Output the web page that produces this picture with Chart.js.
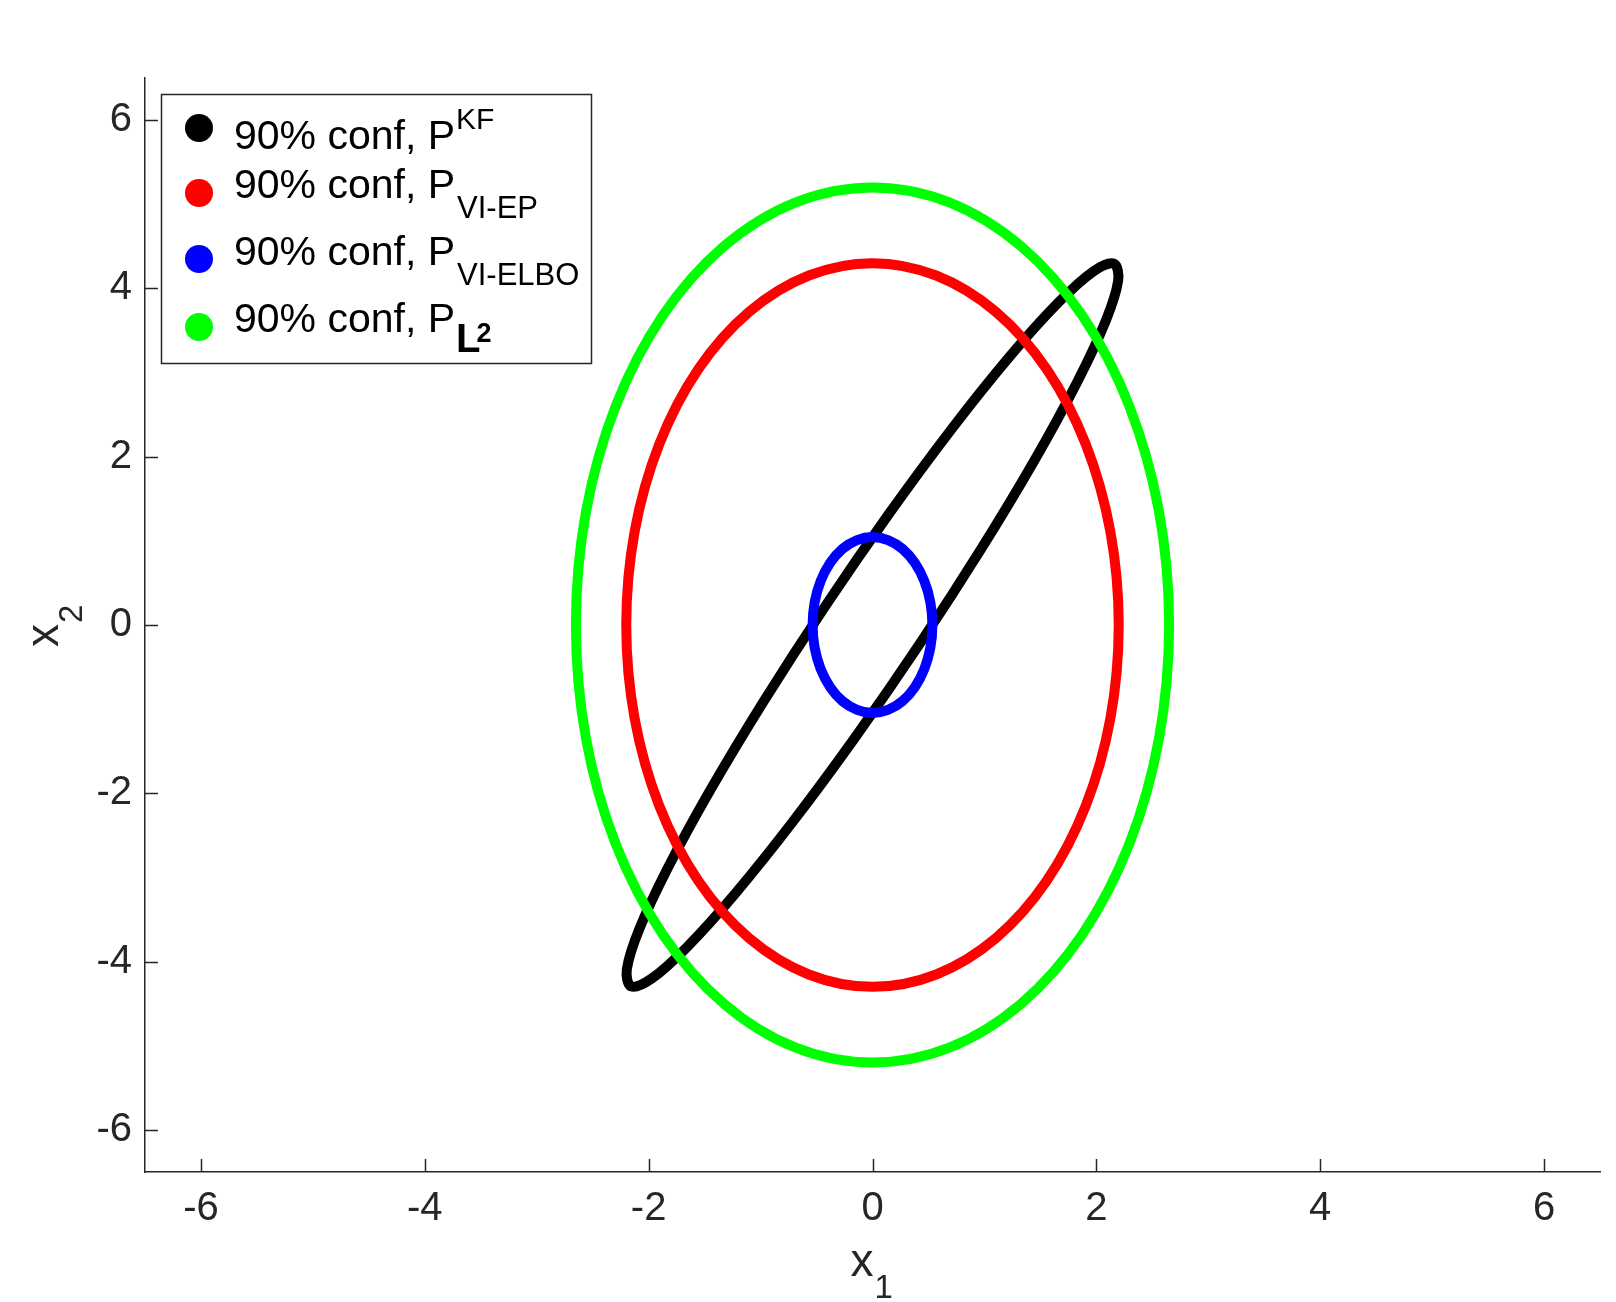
<!DOCTYPE html>
<html>
<head>
<meta charset="utf-8">
<script src="https://cdn.jsdelivr.net/npm/chart.js@4.4.1/dist/chart.umd.min.js"></script>
<style>
html,body{margin:0;padding:0;background:#fff;overflow:hidden}
#wrap{position:relative;width:1616px;height:1302px}
</style>
</head>
<body>
<div id="wrap"><canvas id="c" width="1616" height="1302"></canvas></div>
<script>
// ---- data (90% confidence ellipses, points every 15 degrees) ----
const seriesMain = ['90% conf, P', '90% conf, P', '90% conf, P', '90% conf, P'];
const seriesSup = ['KF', '', '', ''];
const seriesSub = ['', 'VI-EP', 'VI-ELBO', 'L'];
const seriesColors = ['#000000', '#ff0000', '#0000ff', '#00ff00'];

const blackX = [2.158, 1.974, 1.656, 1.224, 0.709, 0.146, -0.427, -0.971, -1.449, -1.828, -2.083, -2.195,
                -2.158, -1.974, -1.656, -1.224, -0.709, -0.146, 0.427, 0.971, 1.449, 1.828, 2.083, 2.195];
const blackY = [4.294, 4.203, 3.826, 3.188, 2.333, 1.319, 0.215, -0.904, -1.961, -2.885, -3.611, -4.092,
                -4.294, -4.203, -3.826, -3.188, -2.333, -1.319, -0.215, 0.904, 1.961, 2.885, 3.611, 4.092];

const redX = [2.2, 2.125, 1.905, 1.556, 1.1, 0.569, 0, -0.569, -1.1, -1.556, -1.905, -2.125,
              -2.2, -2.125, -1.905, -1.556, -1.1, -0.569, 0, 0.569, 1.1, 1.556, 1.905, 2.125];
const redY = [0, 1.113, 2.15, 3.041, 3.724, 4.153, 4.3, 4.153, 3.724, 3.041, 2.15, 1.113,
              0, -1.113, -2.15, -3.041, -3.724, -4.153, -4.3, -4.153, -3.724, -3.041, -2.15, -1.113];

const blueX = [0.535, 0.517, 0.463, 0.378, 0.268, 0.138, 0, -0.138, -0.268, -0.378, -0.463, -0.517,
               -0.535, -0.517, -0.463, -0.378, -0.268, -0.138, 0, 0.138, 0.268, 0.378, 0.463, 0.517];
const blueY = [0, 0.270, 0.523, 0.739, 0.905, 1.009, 1.045, 1.009, 0.905, 0.739, 0.523, 0.270,
               0, -0.270, -0.523, -0.739, -0.905, -1.009, -1.045, -1.009, -0.905, -0.739, -0.523, -0.270];

const greenX = [2.65, 2.56, 2.295, 1.874, 1.325, 0.686, 0, -0.686, -1.325, -1.874, -2.295, -2.56,
                -2.65, -2.56, -2.295, -1.874, -1.325, -0.686, 0, 0.686, 1.325, 1.874, 2.295, 2.56];
const greenY = [0, 1.346, 2.6, 3.677, 4.503, 5.023, 5.2, 5.023, 4.503, 3.677, 2.6, 1.346,
                0, -1.346, -2.6, -3.677, -4.503, -5.023, -5.2, -5.023, -4.503, -3.677, -2.6, -1.346];

const xTicks = [-6, -4, -2, 0, 2, 4, 6];
const yTicks = [-6, -4, -2, 0, 2, 4, 6];
const xTickLabels = ['-6', '-4', '-2', '0', '2', '4', '6'];
const yTickLabels = ['-6', '-4', '-2', '0', '2', '4', '6'];
const xRange = [-6.5, 6.5];
const yRange = [-6.5, 6.5];
// ---------------------------------------------------------------------------------------

const FONT = '"Liberation Sans", Arial, Helvetica, sans-serif';
const AXIS = '#262626';

// closed loop: reuse the listed points, wrapping one point on each side so the spline closes
// smoothly; the two wrap segments themselves are hidden (see segment option below)
function loop(xs, ys) {
  const n = xs.length, pts = [];
  for (let i = -1; i <= n + 1; i++) {
    const k = (i + n) % n;
    pts.push({x: xs[k], y: ys[k]});
  }
  return pts;
}

const overlay = {
  id: 'overlay',
  afterDraw(chart) {
    const ctx = chart.ctx;
    const xs = chart.scales.x, ys = chart.scales.y;
    const ca = chart.chartArea;
    ctx.save();
    // inward tick marks
    ctx.strokeStyle = AXIS;
    ctx.lineWidth = 1.5;
    ctx.beginPath();
    xTicks.forEach(v => {
      const px = Math.round(xs.getPixelForValue(v)) + 0.5;
      ctx.moveTo(px, ca.bottom);
      ctx.lineTo(px, ca.bottom - 13);
    });
    yTicks.forEach(v => {
      const py = Math.round(ys.getPixelForValue(v)) + 0.5;
      ctx.moveTo(ca.left, py);
      ctx.lineTo(ca.left + 13, py);
    });
    ctx.stroke();

    // axis titles
    ctx.fillStyle = AXIS;
    ctx.textBaseline = 'alphabetic';
    ctx.textAlign = 'left';
    const cx = (ca.left + ca.right) / 2;
    ctx.font = '46px ' + FONT;
    const wx = ctx.measureText('x').width;
    ctx.fillText('x', cx - 22, ca.bottom + 104);
    ctx.font = '33px ' + FONT;
    ctx.fillText('1', cx - 22 + wx + 1, ca.bottom + 126);

    const cy = (ca.top + ca.bottom) / 2;
    ctx.save();
    ctx.translate(ca.left - 87, cy + 22);
    ctx.rotate(-Math.PI / 2);
    ctx.font = '46px ' + FONT;
    ctx.fillText('x', 0, 0);
    ctx.font = '33px ' + FONT;
    ctx.fillText('2', wx + 1, 24);
    ctx.restore();

    // legend
    const lx = ca.left + 16, ly = ca.top + 16, lw = 430, lh = 269;
    ctx.fillStyle = '#ffffff';
    ctx.fillRect(lx, ly, lw, lh);
    ctx.strokeStyle = AXIS;
    ctx.lineWidth = 1.5;
    ctx.strokeRect(lx + 0.5, ly + 0.5, lw, lh);
    const markerY = [34, 99, 165, 233];
    const baseY = [55, 104, 171, 238];
    seriesMain.forEach((txt, i) => {
      ctx.fillStyle = seriesColors[i];
      ctx.beginPath();
      ctx.arc(lx + 38, ly + markerY[i], 14, 0, Math.PI * 2);
      ctx.fill();
      ctx.fillStyle = '#000000';
      ctx.font = '41px ' + FONT;
      const tx = lx + 73;
      ctx.fillText(txt, tx, ly + baseY[i]);
      const w = ctx.measureText(txt).width;
      if (seriesSup[i]) {
        ctx.font = '30px ' + FONT;
        ctx.fillText(seriesSup[i], tx + w + 1, ly + baseY[i] - 20);
      }
      if (seriesSub[i] === 'L') {
        ctx.font = 'bold 40px ' + FONT;
        ctx.fillText('L', tx + w + 1, ly + baseY[i] + 20);
        const wl = ctx.measureText('L').width;
        ctx.font = 'bold 27px ' + FONT;
        ctx.fillText('2', tx + w + 1 + wl - 4, ly + baseY[i] + 10);
      } else if (seriesSub[i]) {
        ctx.font = '31px ' + FONT;
        ctx.fillText(seriesSub[i], tx + w + 2, ly + baseY[i] + 20);
      }
    });
    ctx.restore();
  }
};

const ds = (label, xs, ys, color, order) => {
  const last = xs.length + 1; // index of the final wrap segment's start point
  return {
    label, data: loop(xs, ys), borderColor: color, backgroundColor: color,
    showLine: true, fill: false, borderWidth: 10, tension: 0.34, pointRadius: 0,
    pointHoverRadius: 0, order,
    segment: {
      borderColor: c => (c.p0DataIndex === 0 || c.p0DataIndex === last) ? 'rgba(0,0,0,0)' : color
    }
  };
};

new Chart(document.getElementById('c'), {
  type: 'scatter',
  data: {
    datasets: [
      ds('P KF', blackX, blackY, seriesColors[0], 4),
      ds('P VI-EP', redX, redY, seriesColors[1], 3),
      ds('P VI-ELBO', blueX, blueY, seriesColors[2], 2),
      ds('P L2', greenX, greenY, seriesColors[3], 1)
    ]
  },
  options: {
    responsive: false,
    animation: false,
    devicePixelRatio: 1,
    events: [],
    layout: {padding: {top: 78, right: 16, left: 0, bottom: 0}},
    plugins: {legend: {display: false}, tooltip: {enabled: false}},
    elements: {line: {capBezierPoints: false, borderCapStyle: 'round', borderJoinStyle: 'round'}},
    scales: {
      x: {
        type: 'linear', min: xRange[0], max: xRange[1],
        afterFit: s => { s.height = 130; },
        afterBuildTicks: s => { s.ticks = xTicks.map(v => ({value: v})); },
        grid: {display: false, drawTicks: false},
        border: {display: true, color: AXIS, width: 1.5},
        ticks: {
          padding: 13, color: AXIS, font: {family: FONT, size: 40}, maxRotation: 0,
          callback: v => xTickLabels[xTicks.indexOf(v)]
        }
      },
      y: {
        type: 'linear', min: yRange[0], max: yRange[1],
        afterFit: s => { s.width = 145; },
        afterBuildTicks: s => { s.ticks = yTicks.map(v => ({value: v})); },
        grid: {display: false, drawTicks: false},
        border: {display: true, color: AXIS, width: 1.5},
        ticks: {
          padding: 13, color: AXIS, font: {family: FONT, size: 40},
          callback: v => yTickLabels[yTicks.indexOf(v)]
        }
      }
    }
  },
  plugins: [overlay]
});
</script>
</body>
</html>
